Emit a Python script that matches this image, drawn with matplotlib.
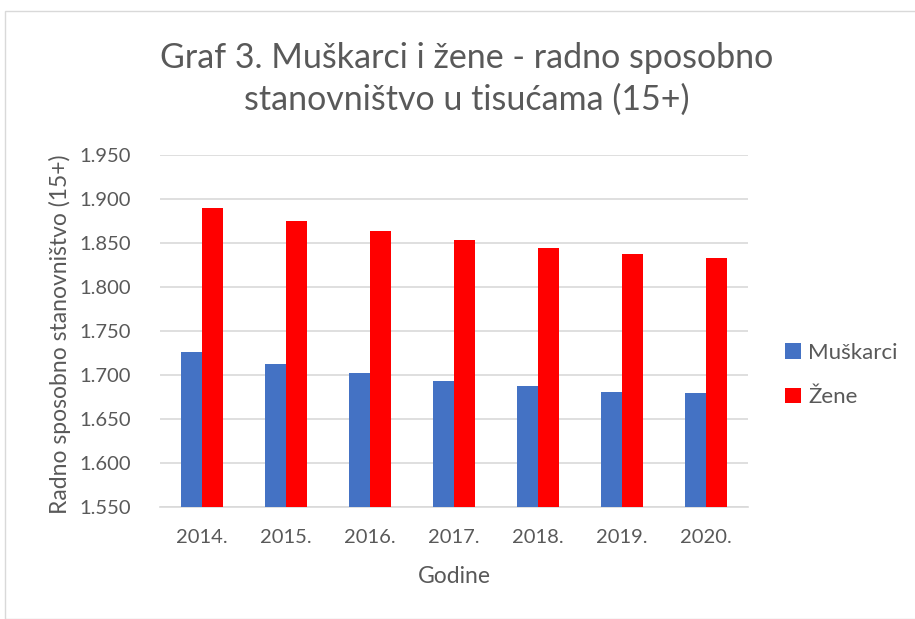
import matplotlib
matplotlib.use("Agg")
import matplotlib.pyplot as plt
import numpy as np
from matplotlib.patches import Rectangle

years = ["2014.", "2015.", "2016.", "2017.", "2018.", "2019.", "2020."]
muskarci = [1726, 1712, 1702, 1693, 1687, 1681, 1679]
zene = [1890, 1875, 1864, 1853, 1844, 1837, 1833]
y_ticks = [1550, 1600, 1650, 1700, 1750, 1800, 1850, 1900, 1950]

plt.rcParams['font.family'] = ['Lato', 'DejaVu Sans']
text_col = '#595959'

fig = plt.figure(figsize=(9.15, 6.19), dpi=100)
ax = fig.add_axes([160/915, 1-507/619, (748-160)/915, (507-155)/619])

x = np.arange(len(years))
w = 0.245
ax.bar(x - w/2, muskarci, w, color='#4472C4', label='Muškarci', zorder=3)
ax.bar(x + w/2, zene, w, color='#FF0000', label='Žene', zorder=3)

ax.set_ylim(1550, 1950)
ax.set_xlim(-0.5, len(years) - 0.5)
ax.set_yticks(y_ticks)
ax.set_yticklabels([f"{v//1000}.{v%1000:03d}" for v in y_ticks])
ax.set_xticks(x)
ax.set_xticklabels(years)
ax.tick_params(axis='both', length=0, labelsize=14.5, colors=text_col)
ax.tick_params(axis='x', pad=16)
ax.tick_params(axis='y', pad=21)
ax.yaxis.grid(True, color='#d9d9d9', linewidth=1.2, zorder=0)
for s in ['top', 'right', 'left']:
    ax.spines[s].set_visible(False)
ax.spines['bottom'].set_color('#d9d9d9')
ax.spines['bottom'].set_linewidth(1.2)

ax.set_xlabel('Godine', fontsize=16.5, color=text_col, labelpad=14)
ax.set_ylabel('Radno sposobno stanovništvo (15+)', fontsize=16.5, color=text_col)
ax.yaxis.set_label_coords((71 - 160) / (748 - 160), 0.49)

fig.text(467/915, 1-58/619, 'Graf 3. Muškarci i žene - radno sposobno', ha='center', va='center',
         fontsize=24.5, color=text_col)
fig.text(467/915, 1-100/619, 'stanovništvo u tisućama (15+)', ha='center', va='center',
         fontsize=24.5, color=text_col)

leg = ax.legend(loc='center left', bbox_to_anchor=(765/915, 1-375/619), bbox_transform=fig.transFigure,
                frameon=False, fontsize=16, handlelength=0.7, handleheight=0.7, labelspacing=1.1,
                handletextpad=0.35)
for t in leg.get_texts():
    t.set_color(text_col)

fig.patches.append(Rectangle((5/915, 0), 1.2, 1-11/619, transform=fig.transFigure,
                             fill=False, edgecolor='#d9d9d9', linewidth=1))

fig.savefig('out.png', dpi=100)
